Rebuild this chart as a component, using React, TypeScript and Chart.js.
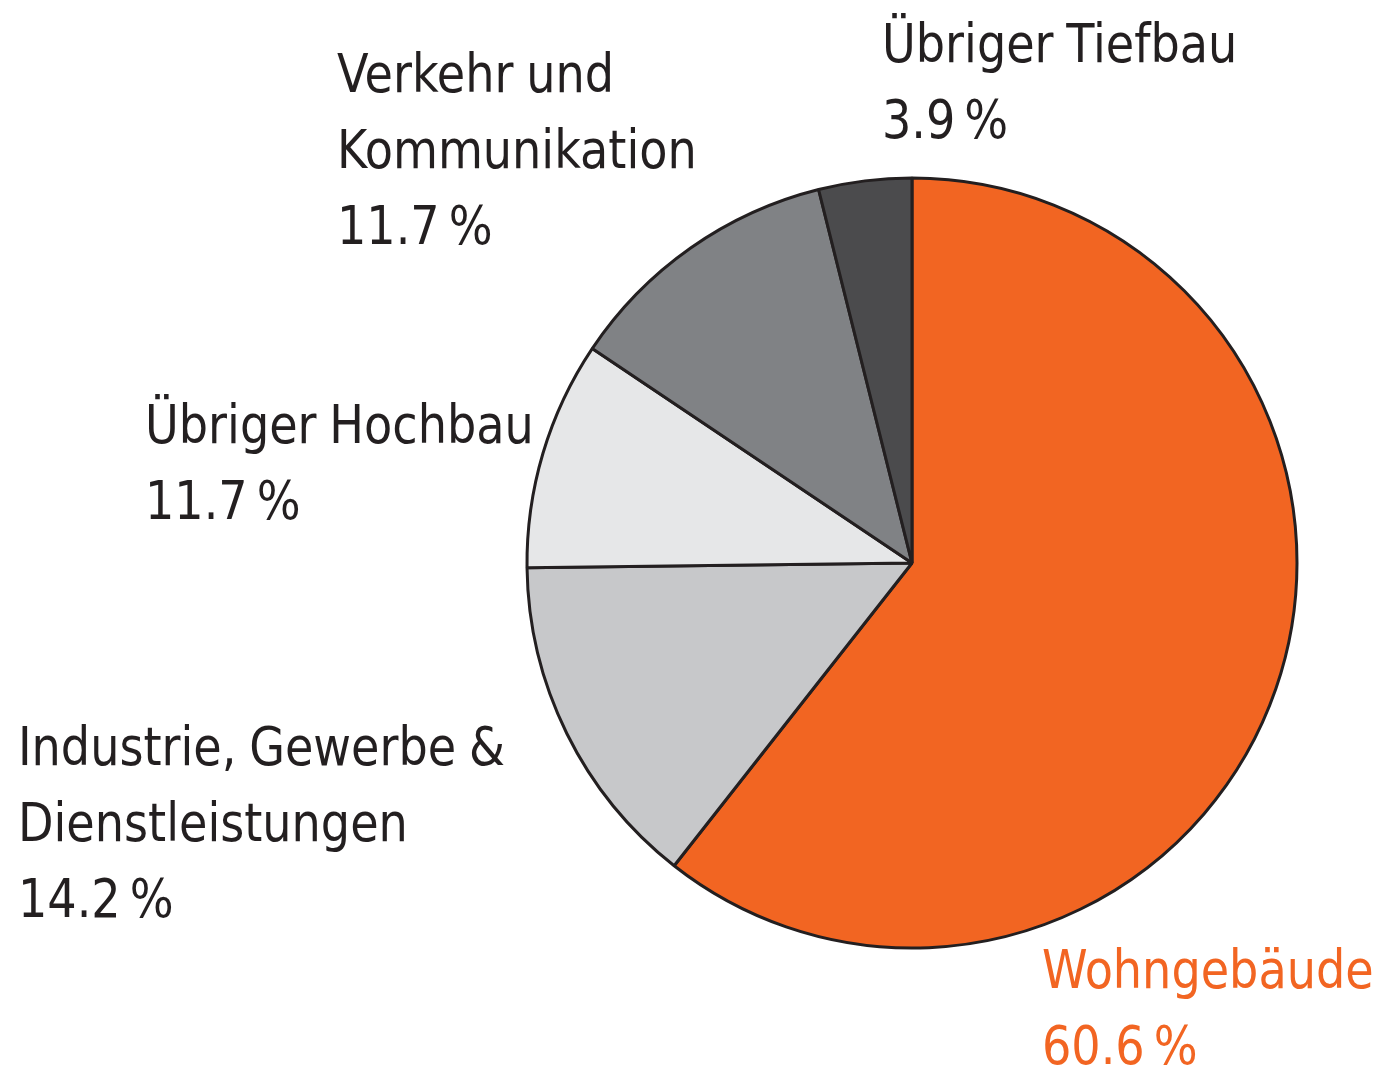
import React, { useEffect, useRef } from "react";
import { Chart, registerables } from "chart.js";

Chart.register(...registerables);

const categories = [
  ["Wohngebäude"],
  ["Industrie, Gewerbe &", "Dienstleistungen"],
  ["Übriger Hochbau"],
  ["Verkehr und", "Kommunikation"],
  ["Übriger Tiefbau"],
];
const shares = [60.6, 14.2, 9.6, 11.7, 3.9];
const shareLabels = ["60.6 %", "14.2 %", "11.7 %", "11.7 %", "3.9 %"];
const colors = ["#F26522", "#C7C8CA", "#E6E7E8", "#808285", "#4B4B4D"];
const textColors = ["#F26522", "#231F20", "#231F20", "#231F20", "#231F20"];

// layout: left x and baseline y of the first line for each label block
const labelAnchors = [
  { x: 1042, y: 988 },
  { x: 18, y: 765 },
  { x: 145, y: 443 },
  { x: 337, y: 92 },
  { x: 882, y: 62 },
];
const LINE_H = 76;
const FONT = "54px 'DejaVu Sans Condensed', 'DejaVu Sans', sans-serif";
const SX = 0.95;

const labelPlugin = {
  id: "blockLabels",
  afterDraw(chart: any) {
    const ctx = chart.ctx;
    ctx.save();
    ctx.font = FONT;
    ctx.textBaseline = "alphabetic";
    ctx.textAlign = "left";
    categories.forEach((lines, i) => {
      const a = labelAnchors[i];
      const all = [...lines, shareLabels[i]];
      ctx.fillStyle = textColors[i];
      all.forEach((t, j) => {
        ctx.save();
        ctx.translate(a.x, a.y + j * LINE_H);
        ctx.scale(SX, 1);
        (ctx as any).wordSpacing = j === all.length - 1 ? "-6px" : "-2px";
        ctx.fillText(t, 0, 0);
        ctx.restore();
      });
    });
    ctx.restore();
  },
};

export default function App() {
  const ref = useRef<HTMLCanvasElement>(null);
  useEffect(() => {
    document.body.style.margin = "0";
    const chart = new Chart(ref.current!, {
      type: "pie",
      data: {
        labels: categories.map((c) => c.join(" ")),
        datasets: [
          {
            data: shares,
            backgroundColor: colors,
            borderColor: "#231F20",
            borderWidth: 3,
          },
        ],
      },
      options: {
        responsive: false,
        animation: false,
        radius: 385,
        layout: { padding: { left: 507, right: 64, top: 158, bottom: 103 } },
        plugins: { legend: { display: false }, tooltip: { enabled: false } },
      },
      plugins: [labelPlugin],
    });
    return () => chart.destroy();
  }, []);
  return (
    <div style={{ width: 1381, height: 1071, background: "#fff" }}>
      <canvas ref={ref} width={1381} height={1071} style={{ display: "block" }} />
    </div>
  );
}
